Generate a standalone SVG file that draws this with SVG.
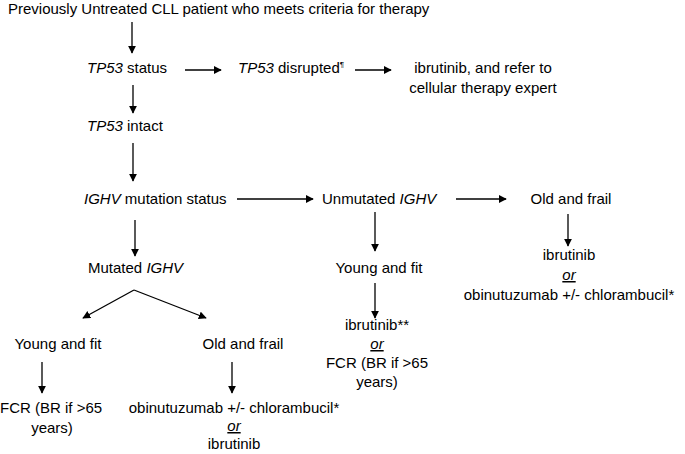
<svg xmlns="http://www.w3.org/2000/svg" width="685" height="454" viewBox="0 0 685 454">
<style>
text{font-family:"Liberation Sans",Arial,sans-serif;font-size:15px;fill:#000}
.i{font-style:italic}
.c{text-anchor:middle}
.u{text-decoration:underline}
.ln{stroke:#000;stroke-width:1.3;fill:none;marker-end:url(#ah)}
</style>
<defs>
<marker id="ah" viewBox="0 0 10 10" refX="9" refY="5" markerWidth="8" markerHeight="8" markerUnits="userSpaceOnUse" orient="auto">
<path d="M0,0 L10,5 L0,10 z" fill="#000"/>
</marker>
</defs>
<rect width="685" height="454" fill="#fff"/>
<g id="start"><text x="8" y="14">Previously Untreated CLL patient who meets criteria for therapy</text></g>
<g id="tp53status"><text x="87" y="73"><tspan class="i">TP53</tspan> status</text></g>
<g id="tp53disrupted"><text x="238" y="73"><tspan class="i">TP53</tspan> disrupted<tspan font-size="8" dy="-6">¶</tspan></text></g>
<g id="ibrutinibRefer"><text class="c" x="483" y="73">ibrutinib, and refer to</text><text class="c" x="483" y="93">cellular therapy expert</text></g>
<g id="tp53intact"><text x="87" y="131"><tspan class="i">TP53</tspan> intact</text></g>
<g id="ighvStatus"><text x="84" y="204"><tspan class="i">IGHV</tspan> mutation status</text></g>
<g id="unmutated"><text x="322" y="204">Unmutated <tspan class="i">IGHV</tspan></text></g>
<g id="unmutOld"><text class="c" x="571" y="204">Old and frail</text></g>
<g id="unmutOldTx"><text class="c" x="569" y="260">ibrutinib</text><text class="c u i" x="569" y="280">or</text><text class="c" x="569" y="300">obinutuzumab +/- chlorambucil*</text></g>
<g id="unmutYoung"><text class="c" x="379" y="273">Young and fit</text></g>
<g id="unmutYoungTx"><text class="c" x="377" y="330">ibrutinib**</text><text class="c u i" x="377" y="349">or</text><text class="c" x="377" y="368">FCR (BR if &gt;65</text><text class="c" x="377" y="387">years)</text></g>
<g id="mutated"><text x="88" y="273">Mutated <tspan class="i">IGHV</tspan></text></g>
<g id="mutYoung"><text class="c" x="58" y="349">Young and fit</text></g>
<g id="mutOld"><text class="c" x="243" y="349">Old and frail</text></g>
<g id="mutYoungTx"><text x="0" y="413">FCR (BR if &gt;65</text><text class="c" x="52" y="433">years)</text></g>
<g id="mutOldTx"><text class="c" x="234" y="413">obinutuzumab +/- chlorambucil*</text><text class="c u i" x="234" y="431">or</text><text class="c" x="234" y="449">ibrutinib</text></g>
<g id="connectors">
<line class="ln" x1="132" y1="22" x2="132" y2="53"/>
<line class="ln" x1="185" y1="70" x2="221" y2="70"/>
<line class="ln" x1="355" y1="70" x2="391" y2="70"/>
<line class="ln" x1="133" y1="85" x2="133" y2="113"/>
<line class="ln" x1="133" y1="143" x2="133" y2="181"/>
<line class="ln" x1="237" y1="199" x2="313" y2="199"/>
<line class="ln" x1="456" y1="199" x2="506" y2="199"/>
<line class="ln" x1="375" y1="212" x2="375" y2="251"/>
<line class="ln" x1="568" y1="214" x2="568" y2="246"/>
<line class="ln" x1="375" y1="283" x2="375" y2="318"/>
<line class="ln" x1="135" y1="220" x2="135" y2="256"/>
<line class="ln" x1="134" y1="290" x2="83" y2="318"/>
<line class="ln" x1="134" y1="290" x2="206" y2="318"/>
<line class="ln" x1="42" y1="362" x2="42" y2="393"/>
<line class="ln" x1="232" y1="362" x2="232" y2="393"/>
</g>
</svg>
